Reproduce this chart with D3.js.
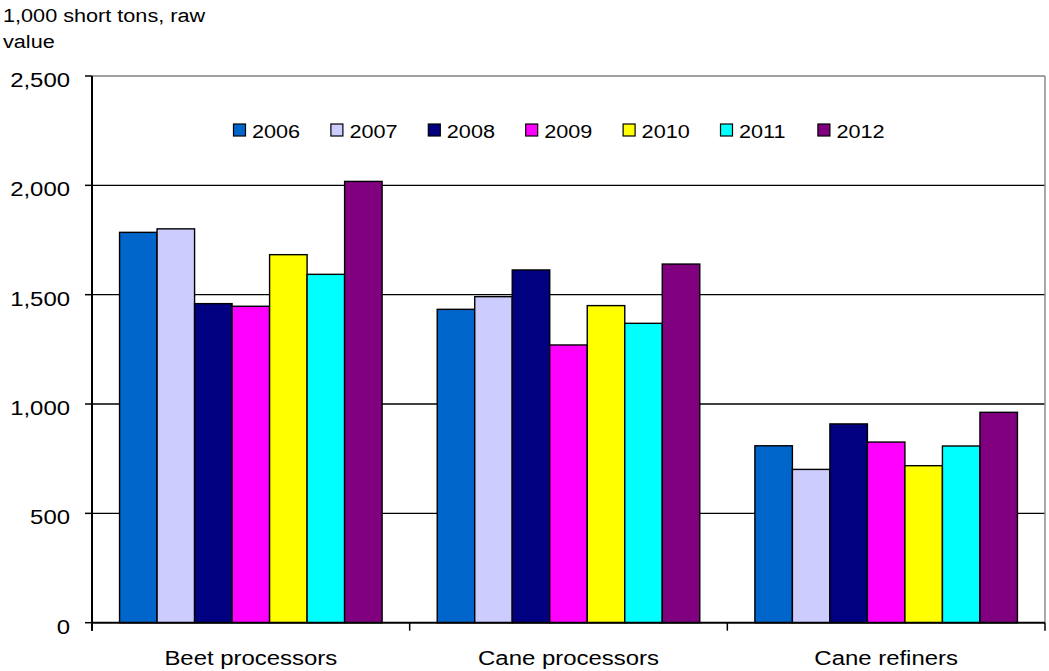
<!DOCTYPE html>
<html>
<head>
<meta charset="utf-8">
<script src="https://cdn.jsdelivr.net/npm/d3@7"></script>
<style>
  html, body { margin: 0; padding: 0; background: #fff; }
  svg text { font-family: "Liberation Sans", Arial, sans-serif; fill: #000; }
</style>
</head>
<body>
<svg id="chart" width="1049" height="671"></svg>
<script>
// Sugar deliveries by processor type, 1,000 short tons raw value
const categories = ["Beet processors", "Cane processors", "Cane refiners"];
const years = ["2006", "2007", "2008", "2009", "2010", "2011", "2012"];
const colors = ["#0066CC", "#CCCCFF", "#000080", "#FF00FF", "#FFFF00", "#00FFFF", "#800080"];
const values2006 = [1785, 1433, 809];
const values2007 = [1801, 1491, 701];
const values2008 = [1459, 1613, 909];
const values2009 = [1447, 1270, 826];
const values2010 = [1683, 1450, 718];
const values2011 = [1593, 1369, 808];
const values2012 = [2018, 1640, 962];
const seriesValues = [values2006, values2007, values2008, values2009, values2010, values2011, values2012];
const yTicks = [0, 500, 1000, 1500, 2000, 2500];
const yTitle = ["1,000 short tons, raw", "value"];

const svg = d3.select("#chart");
const plotLeft = 92, plotRight = 1045, plotTop = 76, plotBottom = 622.7;
const sx = 1.14; // horizontal stretch of the text face
const gapShare = 0.1735; // share of each category band left empty around its bars

const x0 = d3.scaleBand().domain(categories).range([plotLeft, plotRight]);
const x1 = d3.scaleBand().domain(years)
  .range([x0.bandwidth() * gapShare / 2, x0.bandwidth() * (1 - gapShare / 2)]);
const y = d3.scaleLinear().domain([0, 2500]).range([plotBottom, plotTop]);

function stretchedText(g, tx, ty, txt, size, anchor) {
  g.append("text")
    .attr("transform", `translate(${tx},${ty}) scale(${sx},1)`)
    .attr("text-anchor", anchor)
    .style("font-size", size + "px")
    .text(txt);
}

// gridlines
svg.append("g").selectAll("line").data(yTicks.filter(d => d > 0))
  .join("line")
  .attr("x1", plotLeft).attr("x2", plotRight)
  .attr("y1", d => y(d)).attr("y2", d => y(d))
  .attr("stroke", d => d === 2500 ? "#808080" : "#000")
  .attr("stroke-width", d => d === 2500 ? 1.5 : 1.3);

// right border of plot area
svg.append("line").attr("x1", plotRight).attr("x2", plotRight).attr("y1", plotTop).attr("y2", plotBottom)
  .attr("stroke", "#8c8c8c").attr("stroke-width", 1.5);

// bars
const groups = svg.append("g").selectAll("g").data(categories).join("g")
  .attr("transform", d => `translate(${x0(d)},0)`);
groups.selectAll("rect")
  .data((c, ci) => years.map((yr, i) => ({ yr, i, v: seriesValues[i][ci] })))
  .join("rect")
  .attr("x", d => x1(d.yr))
  .attr("width", x1.bandwidth())
  .attr("y", d => y(d.v))
  .attr("height", d => y(0) - y(d.v))
  .attr("fill", d => colors[d.i])
  .attr("stroke", "#000").attr("stroke-width", 1.4);

// y axis
const ya = svg.append("g");
ya.append("line").attr("x1", plotLeft).attr("x2", plotLeft).attr("y1", plotTop).attr("y2", plotBottom + 8)
  .attr("stroke", "#000").attr("stroke-width", 2);
ya.selectAll("line.t").data(yTicks).join("line").attr("class", "t")
  .attr("x1", plotLeft - 7).attr("x2", plotLeft).attr("y1", d => y(d)).attr("y2", d => y(d))
  .attr("stroke", "#000").attr("stroke-width", 1.5);
yTicks.forEach(t => stretchedText(ya, 70, y(t) + 11, d3.format(",")(t), 21, "end"));

// x axis
const xa = svg.append("g");
xa.append("line").attr("x1", plotLeft).attr("x2", plotRight).attr("y1", plotBottom).attr("y2", plotBottom)
  .attr("stroke", "#000").attr("stroke-width", 2);
const bounds = categories.map(c => x0(c)).concat([plotRight]);
xa.selectAll("line.t").data(bounds).join("line").attr("class", "t")
  .attr("x1", d => d).attr("x2", d => d).attr("y1", plotBottom).attr("y2", plotBottom + 8)
  .attr("stroke", "#000").attr("stroke-width", 1.5);
categories.forEach(c => stretchedText(xa, x0(c) + x0.bandwidth() / 2, 665, c, 21, "middle"));

// axis title
stretchedText(svg, 3, 22, yTitle[0], 19, "start");
stretchedText(svg, 3, 48, yTitle[1], 19, "start");

// legend
const lg = svg.append("g");
years.forEach((yr, i) => {
  const lx = 233.5 + i * 97.4;
  lg.append("rect").attr("x", lx).attr("y", 124).attr("width", 12).attr("height", 12)
    .attr("fill", colors[i]).attr("stroke", "#000").attr("stroke-width", 1.2);
  stretchedText(lg, lx + 18.5, 137.5, yr, 19, "start");
});
</script>
</body>
</html>
